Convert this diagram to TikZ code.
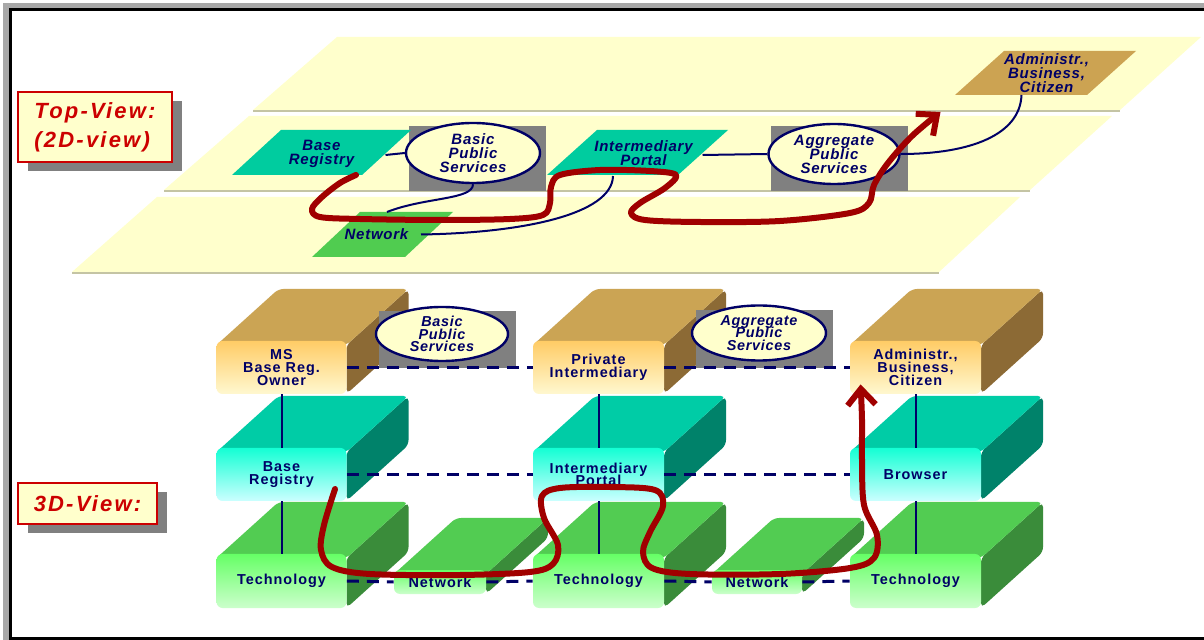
\documentclass[tikz,border=0pt]{standalone}
\usepackage{fontspec}
\usetikzlibrary{shapes.geometric,arrows.meta,shadows,calc}

\newfontfamily\labelfam[LetterSpace=10]{Liberation Sans}
\newfontfamily\flatfam[LetterSpace=5]{Liberation Sans}
\newfontfamily\slabfam[LetterSpace=7]{Liberation Sans}
\newcommand\fnLabel{\labelfam\bfseries\itshape\fontsize{11pt}{14.5pt}\selectfont}
\newcommand\fnFlat{\flatfam\bfseries\itshape\fontsize{7.5pt}{7pt}\selectfont\lineskiplimit=-10pt}
\newcommand\fnSvc{\flatfam\bfseries\itshape\fontsize{7.2pt}{6.25pt}\selectfont\lineskiplimit=-10pt}
\newcommand\fnSlab{\slabfam\bfseries\fontsize{7.2pt}{6.35pt}\selectfont\lineskiplimit=-10pt}

\definecolor{inkblue}{HTML}{000066}
\definecolor{planeyellow}{HTML}{FFFFCC}
\definecolor{planeedge}{HTML}{C4C4A4}
\definecolor{shadowgray}{HTML}{808080}
\definecolor{framegray}{HTML}{A8A8A8}
\definecolor{labelred}{HTML}{CC0000}
\definecolor{flowred}{HTML}{A00000}
\definecolor{tealflat}{HTML}{00CC9F}
\definecolor{greenflat}{HTML}{50CC50}
\definecolor{tanflat}{HTML}{CCA352}
\definecolor{tantopc}{HTML}{CBA454}
\definecolor{tansidec}{HTML}{8C6A35}
\definecolor{tanhi}{HTML}{FFCC66}
\definecolor{tanlo}{HTML}{FFF8D0}
\definecolor{tealtopc}{HTML}{00CCA6}
\definecolor{tealsidec}{HTML}{00826A}
\definecolor{tealhi}{HTML}{14FFD4}
\definecolor{teallo}{HTML}{CCFFFF}
\definecolor{greentopc}{HTML}{52CC52}
\definecolor{greensidec}{HTML}{3A8C3A}
\definecolor{greenhi}{HTML}{66FF66}
\definecolor{greenlo}{HTML}{CCFFCC}

\tikzset{
  plane/.style={fill=planeyellow},
  planeline/.style={draw=planeedge, line width=1pt},
  flattext/.style={text=inkblue, font=\fnFlat, align=center, inner sep=0pt},
  service/.style={ellipse, draw=inkblue, line width=1.2pt, fill=planeyellow,
    inner sep=0pt, text=inkblue, align=center},
  greybox/.style={fill=shadowgray},
  link/.style={draw=inkblue, line width=1pt},
  peer/.style={draw=inkblue, line width=1.5pt, dash pattern=on 6pt off 4pt},
  flow/.style={draw=flowred, line width=3pt, line cap=round, line join=round,
    -{Straight Barb[length=8pt,width=14pt]}},
  viewlabel/.style={draw=labelred, line width=1pt, fill=planeyellow, text=labelred,
    font=\fnLabel, align=left, inner sep=0pt,
    drop shadow={shadow xshift=5pt, shadow yshift=-4.5pt, fill=shadowgray, opacity=1}},
  slabfront/.style={rounded corners=3pt, text=inkblue, font=\fnSlab, align=center, inner sep=0pt},
  tan front/.style={slabfront, top color=tanhi, bottom color=tanlo},
  tan top/.style={fill=tantopc},
  tan side/.style={fill=tansidec},
  teal front/.style={slabfront, top color=tealhi, bottom color=teallo},
  teal top/.style={fill=tealtopc},
  teal side/.style={fill=tealsidec},
  green front/.style={slabfront, top color=greenhi, bottom color=greenlo},
  green top/.style={fill=greentopc},
  green side/.style={fill=greensidec},
}

% a layer block seen in 3D: side face, top face, then the shaded front node
% #1 name, #2 centre x, #3 centre y, #4 width, #5 height, #6 colour family, #7 text
\newcommand{\layerslab}[7]{%
  \fill[#6 side, rounded corners=2.5pt] (#2+#4/2,#3-#5/2+4) -- ++(62,-56) -- ++(0,#5-4) -- (#2+#4/2,#3+#5/2) -- cycle;
  \fill[#6 top, rounded corners=2.5pt] (#2-#4/2,#3-#5/2+4) -- ++(62,-56) -- ++(#4,0) -- (#2+#4/2,#3-#5/2+4) -- cycle;
  \node[#6 front, minimum width=#4*0.5pt, minimum height=#5*0.5pt] (#1) at (#2,#3) {#7};
}

% a flat parallelogram of the top view with its label node
% #1 name, #2 centre x, #3 centre y, #4 overall width, #5 height, #6 slant,
% #7 colour, #8 text, #9 extra options of the label node
\newcommand{\flatpad}[9]{%
  \fill[#7] (#2-#4/2+#6,#3-#5/2) -- (#2+#4/2,#3-#5/2) -- (#2+#4/2-#6,#3+#5/2) -- (#2-#4/2,#3+#5/2) -- cycle;
  \node[flattext, #9] (#1) at (#2,#3) {#8};
}

\begin{document}
\begin{tikzpicture}[x=0.5pt,y=-0.5pt]
\useasboundingbox (0,0) rectangle (1204,640);
\clip (0,0) rectangle (1204,640);
\fill[white] (0,0) rectangle (1204,640);

% slide frame
\fill[framegray] (3,3) rectangle (1204,640);
\draw[line width=1.5pt, fill=white] (10,10) rectangle (1240,638.5);

% ---------- top view: three stacked planes ----------
\fill[plane] (337,37) -- (1201,37) -- (1120,110) -- (253,110) -- cycle;
\draw[planeline] (253,111) -- (1120,111);
\fill[plane] (249,116) -- (1112,116) -- (1030,190) -- (164,190) -- cycle;
\draw[planeline] (164,191) -- (1030,191);
\fill[plane] (157,197) -- (1020,197) -- (939,272) -- (72,272) -- cycle;
\draw[planeline] (72,273) -- (939,273);

\fill[greybox] (409,126) rectangle (546,191);
\fill[greybox] (771,126) rectangle (908,191);

\flatpad{fABC}{1045.5}{73}{181}{44}{49}{tanflat}{Administr.,\\Business,\\Citizen}{xshift=0.5pt}
\flatpad{fBR}{321.5}{152.5}{179}{45}{49}{tealflat}{Base\\Registry}{yshift=-0.5pt}
\flatpad{fIP}{637.5}{152.5}{181}{45}{50}{tealflat}{Intermediary\\Portal}{xshift=3pt,yshift=-0.5pt}
\flatpad{fNW}{382.5}{234.5}{141}{45}{48}{greenflat}{Network}{xshift=-3pt}

\node[service, font=\fnFlat, minimum width=67pt, minimum height=30pt] (fBPS) at (473,153) {Basic\\Public\\Services};
\node[service, font=\fnFlat, minimum width=65.5pt, minimum height=30pt] (fAPS) at (834,154) {Aggregate\\Public\\Services};

\draw[link] ($(fBR.center)+(64,1.5)$) -- (fBPS.west);
\draw[link] ($(fIP.center)+(59,1.5)$) -- (fAPS.west);
\draw[link] (fBPS.south) .. controls (473,200) and (425,197) .. ($(fNW.center)+(10.5,-22.5)$);
\draw[link] ($(fNW.center)+(44.5,0)$) .. controls (520,233) and (612,215) .. ($(fIP.center)+(-30.5,22.5)$);
\draw[link] (fAPS.east) .. controls (970,154) and (1020,135) .. ($(fABC.center)+(-25,22)$);

% value chain in the top view
\draw[flow] plot[smooth, tension=0.55] coordinates {
  ($(fBR.center)+(34.5,21.5)$) (340,183) (322,197) (312,209) (320,217) (360,219)
  (440,220) (510,219) (543,215) (550,203) (551,187) (560,175) (600,170) (650,171)
  (676,175) (665,188) (640,203) (631,213) (645,220) (700,222) (780,221) (850,213)
  (869,203) (874,185) (888,163) (912,136) ($(fABC.center)+(-106,39)$)};

\node[viewlabel, minimum width=77pt, minimum height=35pt] (tv) at (95,127) {Top-View:\\(2D-view)};

% ---------- 3D view: layer blocks ----------
\layerslab{dOwn}{281.5}{367.5}{130}{53}{tan}{MS\\Base Reg.\\Owner}
\layerslab{dBre}{281.5}{474.5}{130}{53}{teal}{Base\\Registry}
\layerslab{dTc1}{281.5}{581}{130}{54}{green}{Technology}
\layerslab{dNw1}{440}{582}{92}{24}{green}{Network}
\layerslab{dPriv}{598.5}{367.5}{131}{53}{tan}{Private\\Intermediary}
\layerslab{dIpo}{598.5}{474.5}{131}{53}{teal}{Intermediary\\Portal}
\layerslab{dTc2}{598.5}{581}{131}{54}{green}{Technology}
\layerslab{dNw2}{757}{582}{90}{24}{green}{Network}
\layerslab{dAbc}{915.5}{367.5}{131}{53}{tan}{Administr.,\\Business,\\Citizen}
\layerslab{dBrw}{915.5}{474.5}{131}{53}{teal}{Browser}
\layerslab{dTc3}{915.5}{581}{131}{54}{green}{Technology}

\fill[greybox] (379,311) rectangle (516,368);
\fill[greybox] (696,310) rectangle (833,368);
\node[service, font=\fnSvc, minimum width=66pt, minimum height=27pt] (dBPS) at (442,334) {Basic\\Public\\Services};
\node[service, font=\fnSvc, minimum width=67pt, minimum height=27.5pt] (dAPS) at (759,333) {Aggregate\\Public\\Services};

% peer relations within a layer
\draw[peer] (dOwn.east) -- (dPriv.west);
\draw[peer] (dPriv.east) -- (dAbc.west);
\draw[peer] (dBre.east) -- (dIpo.west);
\draw[peer] (dIpo.east) -- (dBrw.west);
\draw[peer] (dTc1.east) -- (dNw1.west);
\draw[peer] (dNw1.east) -- (dTc2.west);
\draw[peer] (dTc2.east) -- (dNw2.west);
\draw[peer] (dNw2.east) -- (dTc3.west);

% links between layers
\draw[link] (dOwn.south) -- (dBre.north);
\draw[link] (dBre.south) -- (dTc1.north);
\draw[link] (dPriv.south) -- (dIpo.north);
\draw[link] (dIpo.south) -- (dTc2.north);
\draw[link] (dAbc.south) -- (dBrw.north);
\draw[link] (dBrw.south) -- (dTc3.north);

% value chain in the 3D view
\draw[flow] plot[smooth, tension=0.55] coordinates {
  ($(dBre.center)+(53.5,14.5)$) (324,525) (321,550) (332,567) (370,574) (460,575)
  (530,572) (553,564) (558,545) (544,518) (542,496) (560,488) (610,487) (655,490)
  (663,506) (650,532) (643,552) (652,568) (690,574) (780,574) (850,568) (874,558)
  (877,535) (864,505) (862,460) (862,420) ($(dAbc.south west)+(11,-10)$)};

\node[viewlabel, minimum width=69.5pt, minimum height=20.5pt] (dv) at (87.5,503.5) {3D-View:};
\end{tikzpicture}
\end{document}
